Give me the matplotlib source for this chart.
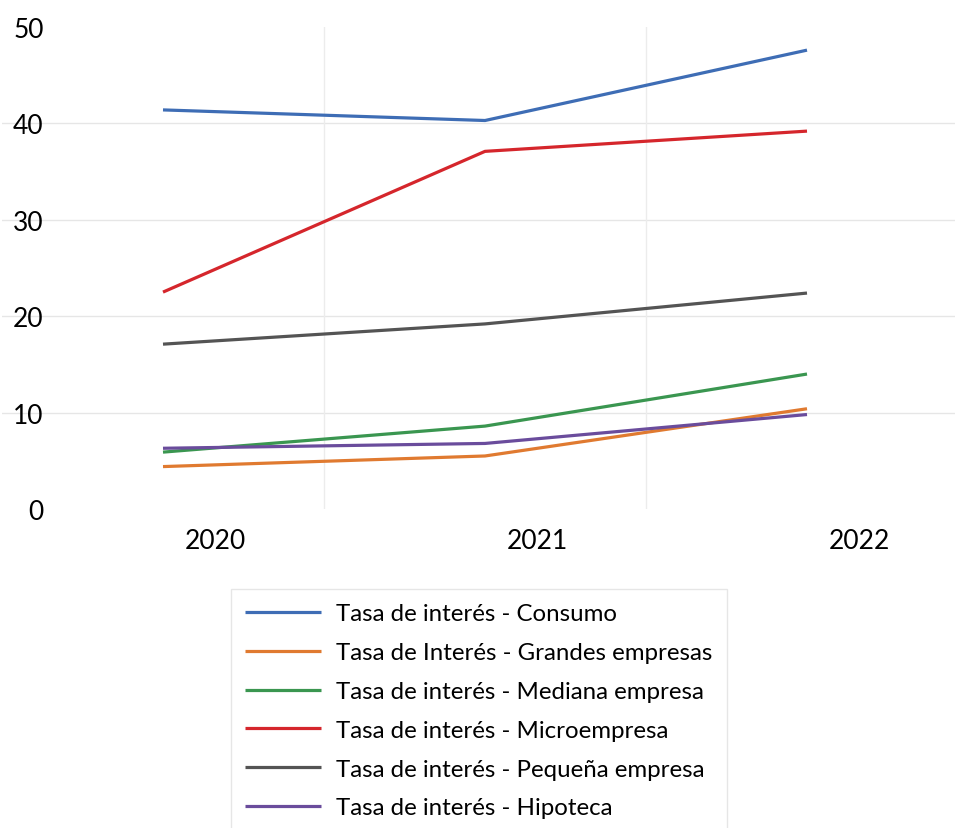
import matplotlib
matplotlib.use("Agg")
import matplotlib.pyplot as plt
import matplotlib.transforms as mtransforms

plt.rcParams['font.family'] = ['Lato', 'DejaVu Sans']

years = ['2020', '2021', '2022']

consumo = [41.4, 40.3, 47.6]
grandes = [4.4, 5.5, 10.4]
mediana = [5.9, 8.6, 14.0]
micro = [22.5, 37.1, 39.2]
pequena = [17.1, 19.2, 22.4]
hipoteca = [6.3, 6.8, 9.8]

series = [
    ("Tasa de interés - Consumo", consumo, '#3e6db5'),
    ("Tasa de Interés - Grandes empresas", grandes, '#e07a30'),
    ("Tasa de interés - Mediana empresa", mediana, '#3a9650'),
    ("Tasa de interés - Microempresa", micro, '#d5262c'),
    ("Tasa de interés - Pequeña empresa", pequena, '#545454'),
    ("Tasa de interés - Hipoteca", hipoteca, '#6a4c9c'),
]

W, H = 955, 829
fig = plt.figure(figsize=(W / 100, H / 100), dpi=100)
ax = fig.add_axes([2 / W, (H - 510) / H, 1 - 2 / W, (510 - 28) / H])

x = list(range(len(years)))
for label, vals, color in series:
    ax.plot(x, vals, color=color, linewidth=2.3, label=label, solid_capstyle='butt')

ax.set_xlim(-0.5, (W - 163) / 322)
ax.set_ylim(0, 50)

# horizontal grid at 10..40 only
for yv in [10, 20, 30, 40]:
    ax.axhline(yv, color='#e6e6e6', linewidth=1, zorder=0)
# vertical grid between categories
for xv in [0.5, 1.5]:
    ax.axvline(xv, color='#ececec', linewidth=1, zorder=0)

for s in ax.spines.values():
    s.set_visible(False)

ax.set_yticks([0, 10, 20, 30, 40, 50])
ax.tick_params(axis='y', length=0, pad=-30, labelsize=19)
ax.set_xticks(x)
ax.set_xticklabels(years)
ax.tick_params(axis='x', length=0, pad=14, labelsize=19)
offset = mtransforms.ScaledTranslation(52 / 100, 0, fig.dpi_scale_trans)
for lbl in ax.get_xticklabels():
    lbl.set_transform(lbl.get_transform() + offset)

leg = fig.legend(loc='upper left', bbox_to_anchor=(231 / W, (H - 590) / H),
                 borderaxespad=0, fontsize=17.3, handlelength=3.15,
                 handletextpad=0.62, labelspacing=0.74, borderpad=0.6,
                 frameon=True, fancybox=False)
leg.get_frame().set_edgecolor('#e0e0e0')
leg.get_frame().set_linewidth(1)

fig.savefig("out.png", dpi=100)
